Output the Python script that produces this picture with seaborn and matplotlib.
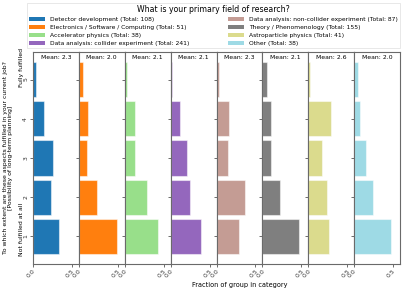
import numpy as np
import pandas as pd
import matplotlib
matplotlib.use("Agg")
import matplotlib.pyplot as plt
import seaborn as sns
from matplotlib.patches import Patch

categories = [
    "Detector development",
    "Electronics / Software / Computing",
    "Accelerator physics",
    "Data analysis: collider experiment",
    "Data analysis: non-collider experiment",
    "Theory / Phenomenology",
    "Astroparticle physics",
    "Other",
]
totals = [108, 51, 38, 241, 87, 155, 41, 38]
levels = [1, 2, 3, 4, 5]
# counts per answer level (1 = not fulfilled at all ... 5 = fully fulfilled)
det_counts = [36, 25, 28, 15, 4]
elec_counts = [25, 12, 5, 6, 3]
acc_counts = [16, 11, 5, 5, 1]
coll_counts = [95, 61, 50, 30, 5]
noncoll_counts = [25, 32, 13, 14, 3]
theory_counts = [73, 36, 18, 18, 10]
astro_counts = [11, 10, 7, 12, 1]
other_counts = [18, 9, 6, 3, 2]
all_counts = [det_counts, elec_counts, acc_counts, coll_counts,
              noncoll_counts, theory_counts, astro_counts, other_counts]
colors = ["#1f77b4", "#ff7f0e", "#98df8a", "#9467bd",
          "#c49c94", "#7f7f7f", "#dbdb8d", "#9edae5"]

legend_title = "What is your primary field of research?"
ylabel = ("To which extent are these aspects fulfilled in your current job?\n"
          "[Possibility of long-term planning]")
xlabel = "Fraction of group in category"

fs = 4.4
fig = plt.figure(figsize=(4.07, 2.91), dpi=100)
axes = fig.subplots(1, 8, sharey=True, sharex=True)
fig.subplots_adjust(left=33/407, right=400/407, top=1-52.3/291,
                    bottom=1-263.7/291, wspace=0)

fracs = [np.array(c) / t for c, t in zip(all_counts, totals)]
xmax = 1.2 * max(f.max() for f in fracs)
spine_col = "#6a6a6a"

for i, ax in enumerate(axes):
    df = pd.DataFrame({"level": levels, "frac": fracs[i]})
    sns.barplot(data=df, x="frac", y="level", orient="h", native_scale=True,
                color=colors[i], saturation=1, width=0.9,
                edgecolor=(1, 1, 1, 0.5), linewidth=0.8, ax=ax)
    mean = np.sum(np.array(levels) * np.array(all_counts[i])) / totals[i]
    ax.text(0.5, 0.985, f"Mean: {mean:.1f}", transform=ax.transAxes,
            ha="center", va="top", fontsize=fs)
    ax.set_xlabel("")
    ax.set_ylabel("")
    for s in ax.spines.values():
        s.set_color(spine_col)
        s.set_linewidth(0.8)
    ax.tick_params(axis="both", labelsize=fs, length=2, width=0.5,
                   colors="#333333", pad=1.5)
    ax.set_xticks([0.0, 0.5])
    ax.set_xticklabels(["0.0", "0.5"], rotation=45, ha="right",
                       rotation_mode="anchor")

axes[0].set_ylim(0.305, 5.695)
axes[0].set_xlim(0, xmax)
axes[0].set_yticks(levels)
axes[0].set_yticklabels([str(l) for l in levels], rotation=90, va="center")
for ax in axes[1:]:
    ax.tick_params(axis="y", labelleft=False)

axes[0].set_ylabel(ylabel, fontsize=fs, labelpad=7)
axes[0].text(-0.24, 5.3, "Fully fulfilled", rotation=90, ha="center",
             va="center", fontsize=fs,
             transform=axes[0].get_yaxis_transform())
axes[0].text(-0.24, 1.19, "Not fulfilled at all", rotation=90, ha="center",
             va="center", fontsize=fs,
             transform=axes[0].get_yaxis_transform())
axes[4].set_xlabel(xlabel, fontsize=4.7, labelpad=2)

handles = [Patch(facecolor=c) for c in colors]
labels = [f"{c} (Total: {t})" for c, t in zip(categories, totals)]
leg = fig.legend(handles, labels, title=legend_title, ncol=2,
                 loc="upper left", mode="expand",
                 bbox_to_anchor=(27/407, 0, 373/407, 1-3/291),
                 borderaxespad=0, fontsize=4.3, title_fontsize=5.6,
                 handlelength=2.6, handleheight=0.7, labelspacing=0.45,
                 frameon=True, fancybox=False, edgecolor="#dddddd",
                 borderpad=0.4, handletextpad=0.8)
leg.get_frame().set_linewidth(0.6)

fig.savefig("out.png", dpi=100)
